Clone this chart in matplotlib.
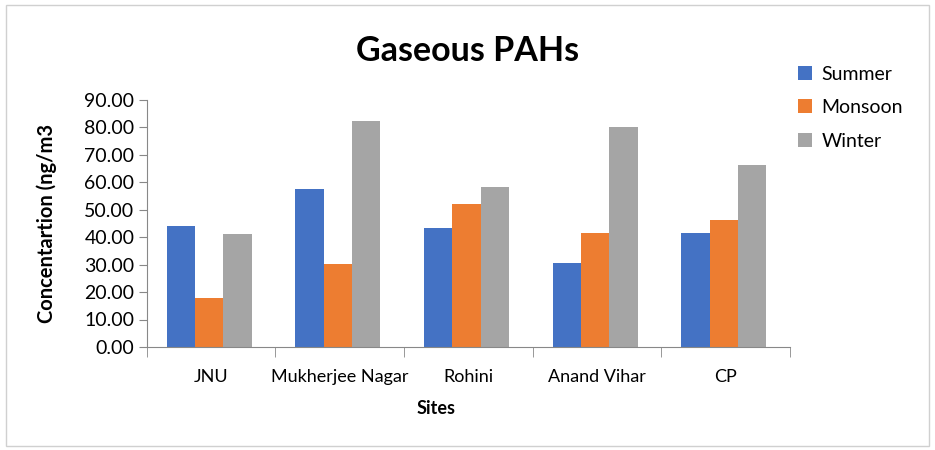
import matplotlib
matplotlib.use("Agg")
import matplotlib.pyplot as plt
import numpy as np
from matplotlib.patches import Rectangle

plt.rcParams['font.family'] = ['Lato', 'DejaVu Sans']

sites = ["JNU", "Mukherjee Nagar", "Rohini", "Anand Vihar", "CP"]
summer = [44.1, 57.5, 43.3, 30.5, 41.4]
monsoon = [18.0, 30.1, 52.0, 41.4, 46.4]
winter = [41.3, 82.2, 58.2, 80.1, 66.4]
series_names = ["Summer", "Monsoon", "Winter"]
colors = ["#4472C4", "#ED7D31", "#A5A5A5"]

fig = plt.figure(figsize=(9.35, 4.5), dpi=100)
fig.patches.append(Rectangle((0.006, 0.01), 0.988, 0.98, transform=fig.transFigure,
                             fill=False, edgecolor="#d0d0d0", linewidth=1))
ax = fig.add_axes([0.157, 0.229, 0.688, 0.549])

x = np.arange(len(sites))
w = 0.22
for i, (vals, name, c) in enumerate(zip([summer, monsoon, winter], series_names, colors)):
    ax.bar(x + (i - 1) * w - 0.015, vals, width=w, color=c, label=name)

ax.set_xlim(-0.5, len(sites) - 0.5)
ax.set_ylim(0, 90)
ax.set_yticks(np.arange(0, 91, 10))
ax.set_yticklabels([f"{v:.2f}" for v in np.arange(0, 91, 10)], fontsize=14)
ax.set_xticks(x)
ax.set_xticklabels(sites, fontsize=13)
ax.tick_params(axis='x', length=0, pad=16)
ax.set_xticks(np.arange(-0.5, len(sites), 1), minor=True)
ax.tick_params(axis='x', which='minor', length=7, color='#888888')
ax.tick_params(axis='y', length=6, color='#888888', pad=3)
for s in ['top', 'right']:
    ax.spines[s].set_visible(False)
for s in ['left', 'bottom']:
    ax.spines[s].set_color('#888888')

ax.set_xlabel("Sites", fontsize=13, fontweight='bold')
ax.xaxis.set_label_coords(0.45, -0.215)
ax.set_ylabel("Concentartion (ng/m3", fontsize=14.5, fontweight='bold')
ax.yaxis.set_label_coords(-0.139, 0.5)
fig.suptitle("Gaseous PAHs", x=0.5, y=0.922, fontsize=24.5, fontweight='bold')

ax.legend(loc='upper left', bbox_to_anchor=(0.985, 1.21), frameon=False, fontsize=14,
          handlelength=0.7, handleheight=0.7, labelspacing=0.85, handletextpad=0.5)

fig.savefig("out.png", dpi=100)
